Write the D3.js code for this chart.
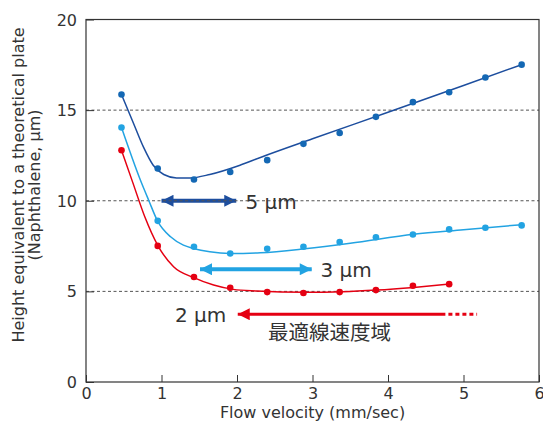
<!DOCTYPE html>
<html><head><meta charset="utf-8">
<script src="https://cdn.jsdelivr.net/npm/d3@7"></script>
<style>body{margin:0;background:#fff}svg{display:block}</style>
</head><body>
<script>
// ---- data ----
const flow = [0.47, 0.95, 1.43, 1.91, 2.40, 2.88, 3.36, 3.84, 4.33, 4.81, 5.29, 5.77];
const hetp5 = [15.86, 11.78, 11.17, 11.59, 12.24, 13.14, 13.74, 14.63, 15.44, 15.99, 16.80, 17.51];
const hetp3 = [14.04, 8.89, 7.46, 7.09, 7.35, 7.46, 7.72, 7.99, 8.14, 8.42, 8.51, 8.64];
const hetp2 = [12.79, 7.51, 5.79, 5.20, 4.96, 4.91, 4.96, 5.07, 5.31, 5.40];
// fitted curves
const fit5x = [0.47, 0.63, 0.76, 0.89, 1.03, 1.20, 1.38, 1.64, 2.04, 2.31, 3.0, 4.0, 5.0, 5.77];
const fit5y = [15.86, 14.26, 12.97, 11.96, 11.45, 11.26, 11.26, 11.45, 11.96, 12.39, 13.42, 14.88, 16.36, 17.51];
const fit3x = [0.47, 0.72, 0.83, 0.95, 1.12, 1.29, 1.42, 1.64, 1.91, 2.31, 2.9, 3.5, 4.34, 5.0, 5.77];
const fit3y = [14.04, 11.14, 10.03, 8.86, 8.01, 7.55, 7.37, 7.18, 7.09, 7.13, 7.35, 7.65, 8.15, 8.40, 8.68];
const fit2x = [0.47, 0.62, 0.78, 0.95, 1.16, 1.42, 1.69, 1.95, 2.26, 2.9, 3.4, 3.85, 4.34, 4.81];
const fit2y = [12.79, 11.0, 9.1, 7.54, 6.36, 5.77, 5.35, 5.11, 5.02, 4.95, 4.98, 5.07, 5.22, 5.40];
const xTicks = [0, 1, 2, 3, 4, 5, 6];
const yTicks = [0, 5, 10, 15, 20];
const gridVals = [5, 10, 15];
const labels = ["5 µm", "3 µm", "2 µm"];
const regionLabel = "最適線速度域";
const xTitle = "Flow velocity (mm/sec)";
const yTitle = ["Height equivalent to a theoretical plate", "(Naphthalene, µm)"];

// ---- layout ----
const W = 543, H = 421;
const m = {l: 86, r: 4, t: 19.5, b: 39};
const x = d3.scaleLinear().domain([0, 6]).range([m.l, W - m.r]);
const y = d3.scaleLinear().domain([0, 20]).range([H - m.b, m.t]);
const C5 = "#1d4e9e", C5p = "#1468b4", C3 = "#22a3e2", C2 = "#e50012", TXT = "#333";
const FONT = "'DejaVu Sans', Verdana, sans-serif";

const svg = d3.select("body").append("svg").attr("width", W).attr("height", H)
  .style("font-family", FONT);

// arrow markers
const defs = svg.append("defs");
function marker(id, color, w, h) {
  defs.append("marker").attr("id", id).attr("viewBox", "0 0 10 10")
    .attr("refX", 10).attr("refY", 5).attr("markerUnits", "userSpaceOnUse")
    .attr("markerWidth", w).attr("markerHeight", h).attr("orient", "auto-start-reverse")
    .append("path").attr("d", "M0,0 L10,5 L0,10 Z").attr("fill", color);
}
marker("a5", C5, 14, 12);
marker("a3", C3, 14, 12);
marker("a2", C2, 14, 12);

// annotations: arrows (data coords)
function arrow(x1, x2, yv, color, id, both, sw) {
  svg.append("line").attr("x1", x(x1)).attr("x2", x(x2)).attr("y1", y(yv)).attr("y2", y(yv))
    .attr("stroke", color).attr("stroke-width", sw)
    .attr("marker-end", `url(#${id})`)
    .attr("marker-start", both ? `url(#${id})` : null);
}
arrow(1.0, 1.99, 10, C5, "a5", true, 4);
arrow(1.51, 2.99, 6.22, C3, "a3", true, 4);
arrow(4.76, 2.01, 3.74, C2, "a2", false, 3);
svg.append("line").attr("x1", x(4.80)).attr("x2", x(5.18)).attr("y1", y(3.74)).attr("y2", y(3.74))
  .attr("stroke", C2).attr("stroke-width", 3).attr("stroke-dasharray", "4,3");

// gridlines
svg.append("g").selectAll("line").data(gridVals).join("line")
  .attr("x1", x(0)).attr("x2", x(6)).attr("y1", d => y(d)).attr("y2", d => y(d))
  .attr("stroke", "#555").attr("stroke-width", 1).attr("stroke-dasharray", "3,2.5");

// axes
const xAxis = d3.axisBottom(x).tickValues(xTicks).tickSize(-7).tickPadding(6).tickFormat(d3.format("d"));
const yAxis = d3.axisLeft(y).tickValues(yTicks).tickSize(-8).tickPadding(9).tickFormat(d3.format("d"));
const gx = svg.append("g").attr("transform", `translate(0,${y(0)})`).call(xAxis);
const gy = svg.append("g").attr("transform", `translate(${x(0)},0)`).call(yAxis);
[gx, gy].forEach(g => {
  g.select(".domain").remove();
  g.selectAll("line").attr("stroke", TXT);
  g.selectAll("text").attr("fill", TXT).style("font-size", "16px").style("font-family", FONT);
});
gy.selectAll(".tick text").attr("dy", "0.35em");
// frame
svg.append("rect").attr("x", x(0)).attr("y", y(20)).attr("width", x(6) - x(0)).attr("height", y(0) - y(20))
  .attr("fill", "none").attr("stroke", TXT).attr("stroke-width", 1.2);

// curves
const line = d3.line().x(d => x(d[0])).y(d => y(d[1])).curve(d3.curveMonotoneX);
function series(fx, fy, px, py, lc, pc, lw) {
  svg.append("path").attr("d", line(d3.zip(fx, fy))).attr("fill", "none").attr("stroke", lc).attr("stroke-width", lw);
  svg.append("g").selectAll("circle").data(d3.zip(px, py)).join("circle")
    .attr("cx", d => x(d[0])).attr("cy", d => y(d[1])).attr("r", 3.3).attr("fill", pc);
}
series(fit2x, fit2y, flow.slice(0, hetp2.length), hetp2, C2, C2, 1.5);
series(fit3x, fit3y, flow, hetp3, C3, C3, 1.5);
series(fit5x, fit5y, flow, hetp5, C5, C5p, 1.5);

// annotation texts
svg.append("text").attr("x", 245.5).attr("y", 208.5).text(labels[0]).attr("fill", TXT).style("font-size", "20px");
svg.append("text").attr("x", 320.5).attr("y", 277).text(labels[1]).attr("fill", TXT).style("font-size", "20px");
svg.append("text").attr("x", 175).attr("y", 321.5).text(labels[2]).attr("fill", TXT).style("font-size", "20px");
svg.append("text").attr("x", 268).attr("y", 340).text(regionLabel).attr("fill", TXT)
  .style("font-size", "20.5px").style("font-family", "'Noto Sans CJK JP', sans-serif");

// axis titles
svg.append("text").attr("x", (x(0) + x(6)) / 2).attr("y", 418).attr("text-anchor", "middle")
  .text(xTitle).attr("fill", TXT).style("font-size", "16px");
const yt = svg.append("text").attr("transform", "translate(18,185) rotate(-90)").attr("text-anchor", "middle")
  .attr("fill", TXT).style("font-size", "16px");
yt.append("tspan").attr("x", 0).attr("dy", "0.35em").text(yTitle[0]);
yt.append("tspan").attr("x", 0).attr("dy", "1.05em").text(yTitle[1]);
</script>
</body></html>
